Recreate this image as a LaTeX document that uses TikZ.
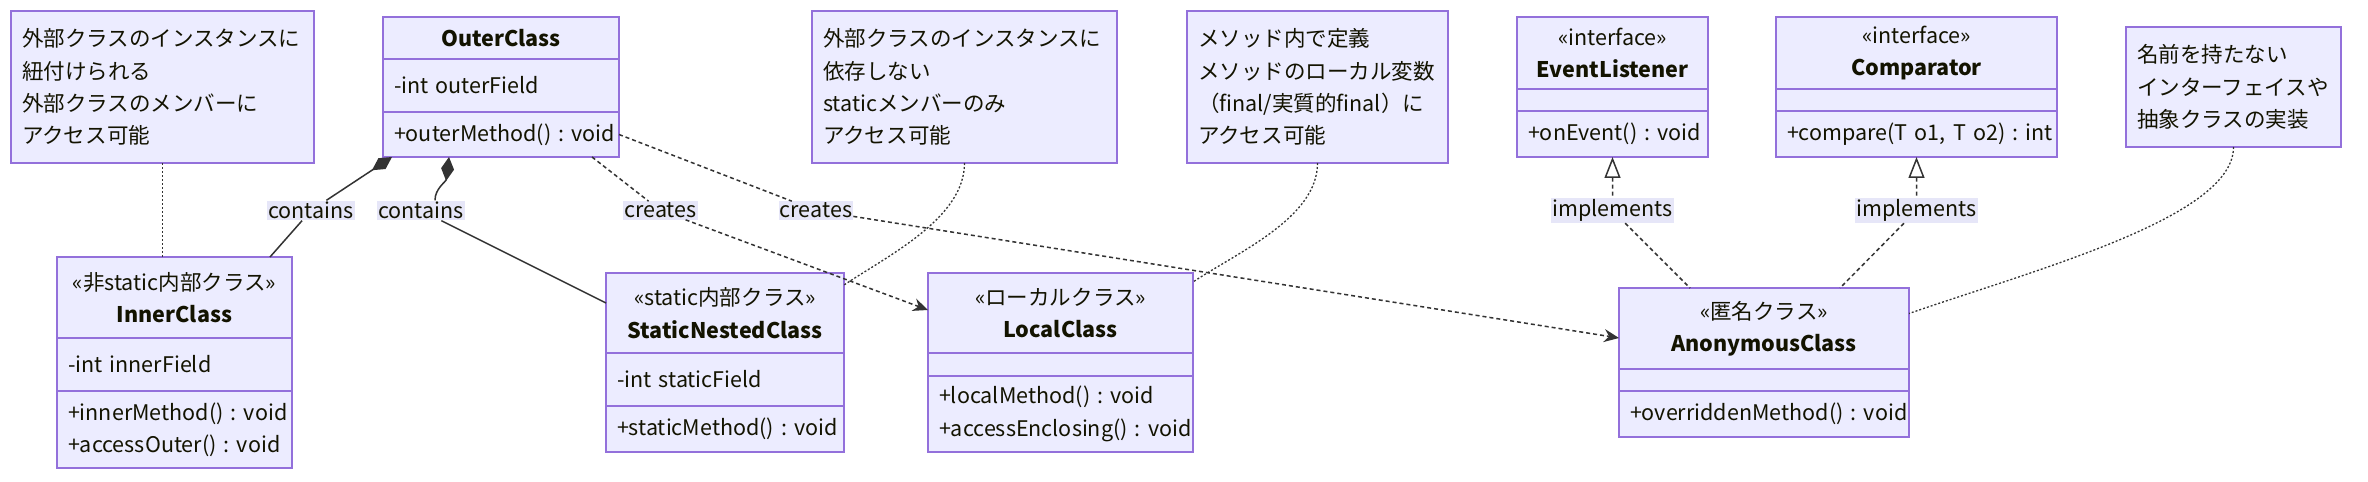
\documentclass[tikz,border=0pt]{standalone}
\usepackage{fontspec}
\setmainfont{Noto Sans CJK JP}
\usetikzlibrary{arrows.meta}

\definecolor{umlfill}{HTML}{ECECFF}
\definecolor{umlline}{HTML}{9370DB}
\definecolor{umltext}{HTML}{131300}
\definecolor{edgeline}{HTML}{333333}
\definecolor{lblfill}{HTML}{E6E6F8}

\begin{document}
\begin{tikzpicture}[x = 1bp, y = -1bp,
    every node/.style = {font = \fontsize{21.6}{32.5}\selectfont, text = umltext},
    sect/.style = {draw = umlline, fill = umlfill, line width = 1.5bp, anchor = north west,
                   inner xsep = 11bp, inner ysep = 0pt, outer sep = 0pt, align = left},
    head/.style = {sect, align = center},
    note/.style = {sect},
    lbl/.style = {fill = lblfill, inner xsep = 1bp, inner ysep = 1.5bp},
    edge/.style = {draw = edgeline, line width = 1.5bp},
    dashedge/.style = {edge, dash pattern = on 4bp off 3bp},
    comp/.style = {edge, {Diamond[length = 24bp, width = 13bp]}-},
    dep/.style = {dashedge, -{Stealth[length = 15bp, width = 13bp, inset = 5bp]}},
    impl/.style = {dashedge, {Triangle[open, length = 21bp, width = 16bp]}-},
    link/.style = {edge, line width = 1.3bp, dash pattern = on 2bp off 2bp}]
    \path[fill = white, use as bounding box] (0, 0) rectangle (2368, 482);

    \node[note, minimum width = 303bp, text width = 281bp, minimum height = 152bp] (noteInner) at (11, 11)
        {外部クラスのインスタンスに\\紐付けられる\\外部クラスのメンバーに\\アクセス可能};
    \node[note, minimum width = 305bp, text width = 283bp, minimum height = 152bp] (noteNest) at (812, 11)
        {外部クラスのインスタンスに\\依存しない\\staticメンバーのみ\\アクセス可能};
    \node[note, minimum width = 261bp, text width = 239bp, minimum height = 152bp] (noteLocal) at (1187, 11)
        {メソッド内で定義\\メソッドのローカル変数\\（final/実質的final）に\\アクセス可能};
    \node[note, minimum width = 215bp, text width = 193bp, minimum height = 120bp] (noteAnon) at (2126, 27)
        {名前を持たない\\インターフェイスや\\抽象クラスの実装};

    \node[head, minimum width = 236bp, text width = 214bp, minimum height = 42bp] (outerH) at (383, 17) {\textbf{OuterClass}};
    \node[sect, minimum width = 236bp, text width = 214bp, minimum height = 53bp] (outerF) at (383, 59) {-int~outerField};
    \node[sect, minimum width = 236bp, text width = 214bp, minimum height = 45bp] (outerM) at (383, 112) {+outerMethod()~:~void};

    \node[head, minimum width = 191bp, text width = 169bp, minimum height = 72bp] (evH) at (1517, 17) {«interface»\\\textbf{EventListener}};
    \node[sect, minimum width = 191bp, text width = 169bp, minimum height = 22bp] (evF) at (1517, 89) {};
    \node[sect, minimum width = 191bp, text width = 169bp, minimum height = 46bp] (evM) at (1517, 111) {+onEvent()~:~void};

    \node[head, minimum width = 281bp, text width = 259bp, minimum height = 72bp] (cmpH) at (1776, 17) {«interface»\\\textbf{Comparator}};
    \node[sect, minimum width = 281bp, text width = 259bp, minimum height = 22bp] (cmpF) at (1776, 89) {};
    \node[sect, minimum width = 281bp, text width = 259bp, minimum height = 46bp] (cmpM) at (1776, 111) {+compare(T~o1,~T~o2)~:~int};

    \node[head, minimum width = 235bp, text width = 213bp, minimum height = 81bp] (innerH) at (57, 257) {«非static内部クラス»\\\textbf{InnerClass}};
    \node[sect, minimum width = 235bp, text width = 213bp, minimum height = 53bp] (innerF) at (57, 338) {-int~innerField};
    \node[sect, minimum width = 235bp, text width = 213bp, minimum height = 77bp] (innerM) at (57, 391) {+innerMethod()~:~void\\+accessOuter()~:~void};

    \node[head, minimum width = 238bp, text width = 216bp, minimum height = 80bp] (nestH) at (606, 273) {«static内部クラス»\\\textbf{StaticNestedClass}};
    \node[sect, minimum width = 238bp, text width = 216bp, minimum height = 53bp] (nestF) at (606, 353) {-int~staticField};
    \node[sect, minimum width = 238bp, text width = 216bp, minimum height = 46bp] (nestM) at (606, 406) {+staticMethod()~:~void};

    \node[head, minimum width = 265bp, text width = 243bp, minimum height = 80bp] (localH) at (928, 273) {«ローカルクラス»\\\textbf{LocalClass}};
    \node[sect, minimum width = 265bp, text width = 243bp, minimum height = 23bp] (localF) at (928, 353) {};
    \node[sect, minimum width = 265bp, text width = 243bp, minimum height = 76bp] (localM) at (928, 376) {+localMethod()~:~void\\+accessEnclosing()~:~void};

    \node[head, minimum width = 290bp, text width = 268bp, minimum height = 81bp] (anonH) at (1619, 288) {«匿名クラス»\\\textbf{AnonymousClass}};
    \node[sect, minimum width = 290bp, text width = 268bp, minimum height = 22bp] (anonF) at (1619, 369) {};
    \node[sect, minimum width = 290bp, text width = 268bp, minimum height = 46bp] (anonM) at (1619, 391) {+overriddenMethod()~:~void};

    \node[lbl] (contA) at (311, 210.5) {contains};
    \node[lbl] (contB) at (421, 210.5) {contains};
    \node[lbl] (creA)  at (660.5, 210.5) {creates};
    \node[lbl] (creB)  at (816, 210.5) {creates};
    \node[lbl] (implA) at (1612.5, 210.5) {implements};
    \node[lbl] (implB) at (1916.5, 210.5) {implements};

    \draw[link] (noteInner.south) -- (noteInner.south |- innerH.north);
    \draw[link] (noteNest.south) .. controls +(0, 55) and +(45, -30) .. ([yshift = 28bp]nestH.east);
    \draw[link] (noteLocal.south) .. controls +(0, 55) and +(45, -30) .. ([yshift = 31bp]localH.east);
    \draw[link] (noteAnon.south) .. controls +(0, 70) and +(130, -45) .. ([yshift = 15bp]anonH.east);

    \draw[comp] ([xshift = 9bp]outerM.south west) -- (contA);
    \draw[edge] (contA) -- ([xshift = -22bp]innerH.north east);
    \draw[comp] ([xshift = 66bp]outerM.south west) .. controls +(-3, 25) and +(0, -12) .. ([xshift = 14bp]contB.north);
    \draw[edge] (contB) -- ([yshift = 10bp]nestH.west);
    \draw[dashedge] ([xshift = -27bp]outerM.south east) -- (creA);
    \draw[dep] (creA) -- ([yshift = 3bp]localH.west);
    \draw[dashedge] (outerM.east) -- (creB);
    \draw[dep] (creB) -- ([yshift = -9.5bp]anonH.west);
    \draw[impl] (evM.south) -- (implA);
    \draw[dashedge] (implA) -- ([xshift = 71bp]anonH.north west);
    \draw[impl] (cmpM.south) -- (implB);
    \draw[dashedge] (implB) -- ([xshift = -69bp]anonH.north east);
\end{tikzpicture}
\end{document}
